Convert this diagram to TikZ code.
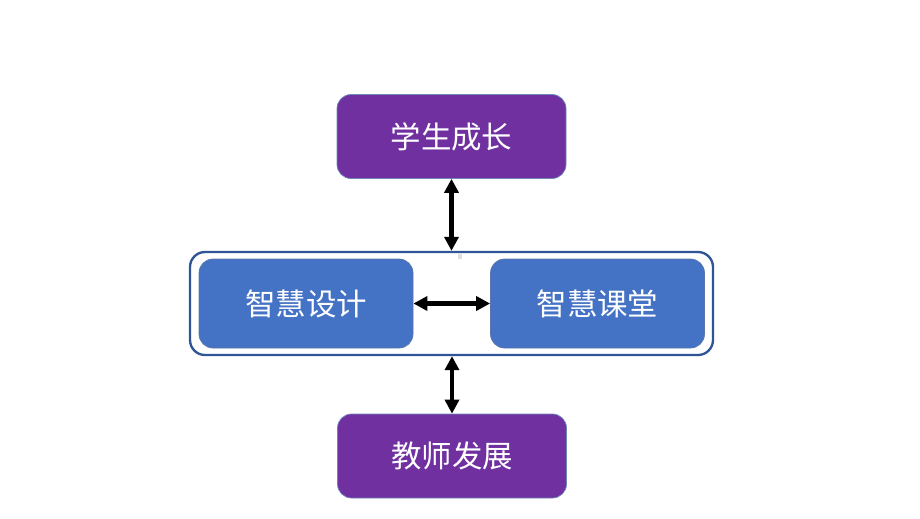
\documentclass[tikz,border=0pt]{standalone}
\usepackage{fontspec}
\newfontfamily\cjk{Noto Sans CJK SC}
\usetikzlibrary{arrows.meta}

\definecolor{purplebox}{HTML}{7030A0}
\definecolor{bluebox}{HTML}{4472C4}
\definecolor{blueline}{HTML}{2F5597}

\begin{document}
\begin{tikzpicture}[x=0.03cm,y=-0.03cm]

\tikzset{
    goalbox/.style={
        draw=blueline!70,
        fill=purplebox,
        rounded corners=0.42cm,
        minimum width=229*0.03cm,
        minimum height=84*0.03cm,
        text=white,
        font=\cjk\fontsize{26}{30}\selectfont,
        line width=0.6pt,
    },
    smartbox/.style={
        draw=blueline!80,
        fill=bluebox,
        rounded corners=0.42cm,
        minimum width=214*0.03cm,
        minimum height=89*0.03cm,
        text=white,
        font=\cjk\fontsize{26}{30}\selectfont,
        line width=0.6pt,
    },
    frame/.style={
        draw=blueline,
        fill=white,
        rounded corners=0.45cm,
        minimum width=523*0.03cm,
        minimum height=103*0.03cm,
        line width=2pt,
    },
    link/.style={
        {Triangle[length=12pt,width=12pt]}-{Triangle[length=12pt,width=12pt]},
        line width=4pt,
        black,
    }
}

\useasboundingbox (0,0) rectangle (920,518);

\node(frame) [frame] at (451.5,303.5) {};
\fill[gray!25] (458,254) rectangle (462,259);

\node(design) [smartbox] at (306,303.5) {智慧设计};
\node(class) [smartbox] at (597.5,303.5) {智慧课堂};

\node(student) [goalbox] at (451.5,136.5) {学生成长};
\node(teacher) [goalbox] at (452,456) {教师发展};

\draw[link] (student) -- (frame);
\draw[link] (design) -- (class);
\draw[link] (frame.south -| teacher.north) -- (teacher);

\end{tikzpicture}
\end{document}
